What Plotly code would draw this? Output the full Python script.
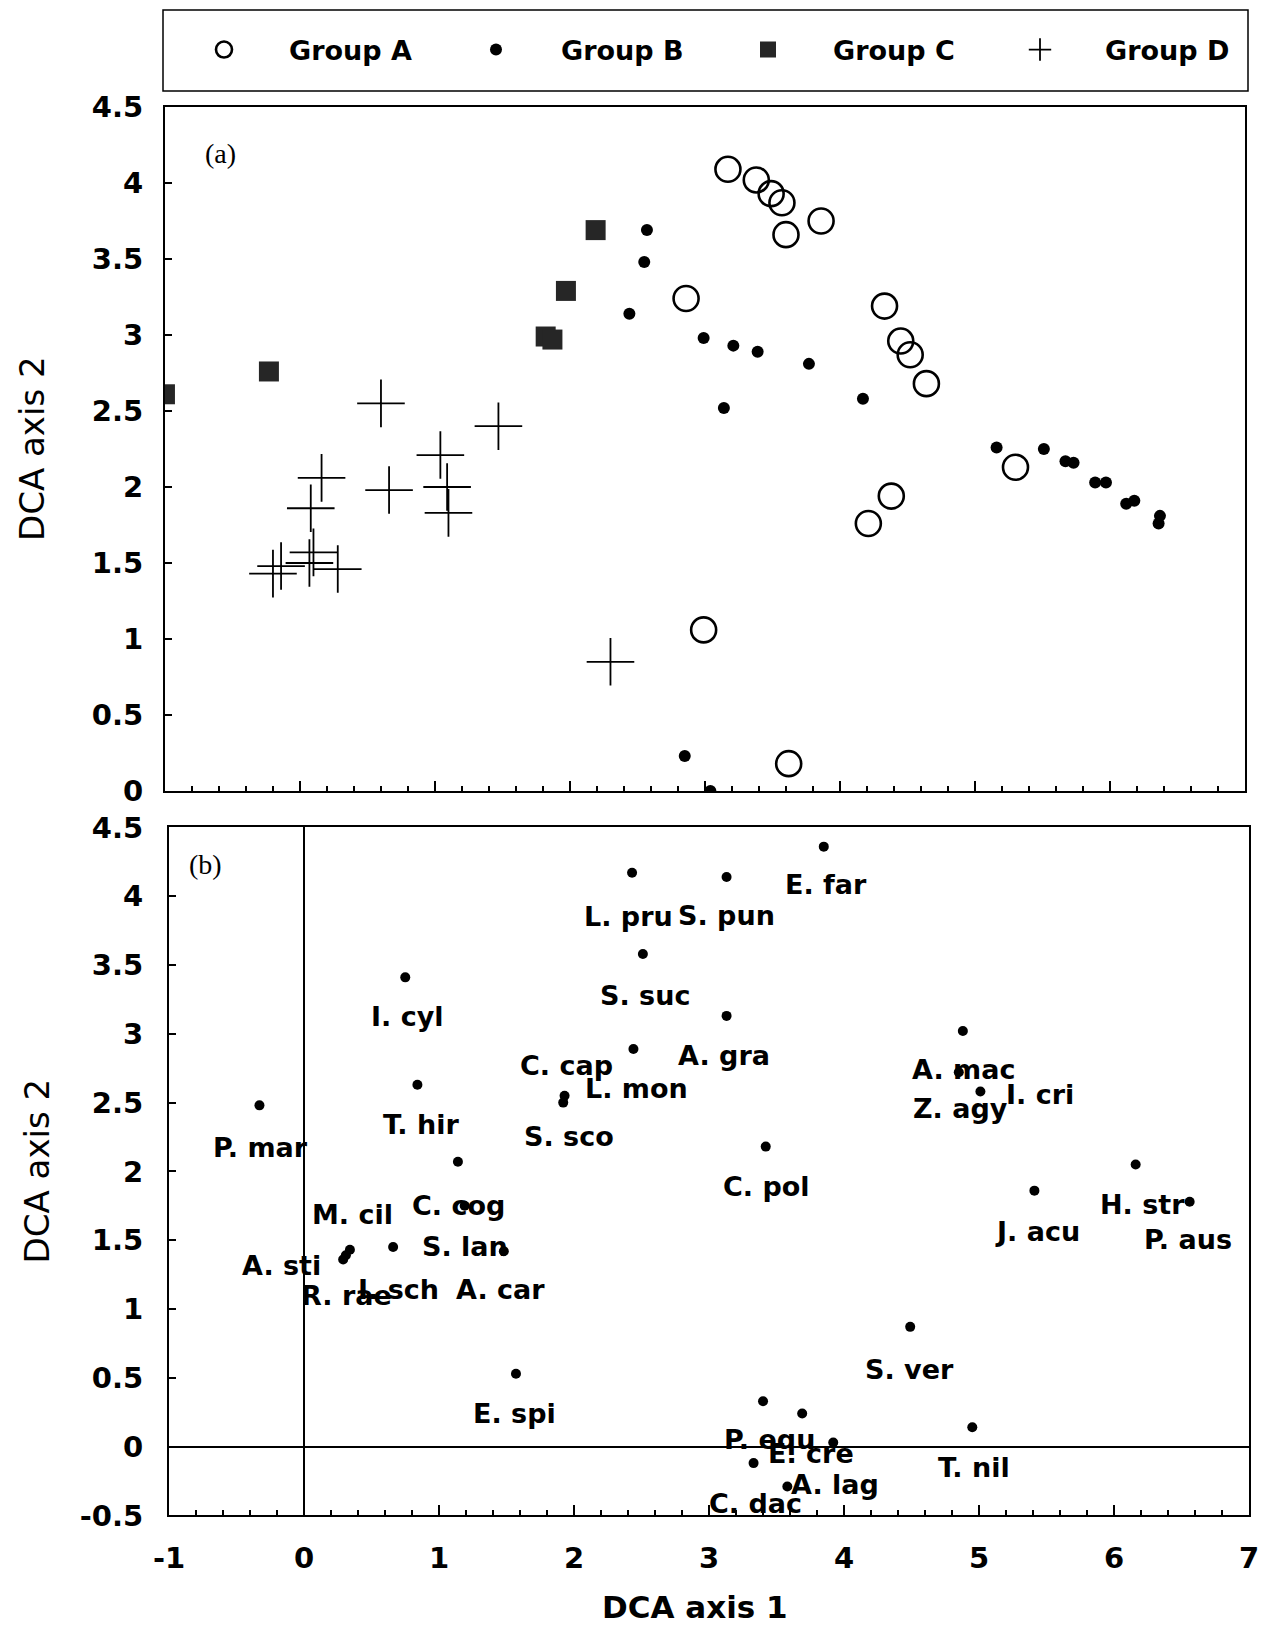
import plotly.graph_objects as go

# ---------------- Panel (a): sample scores ----------------
A_X = [3.17, 3.38, 3.49, 3.57, 3.60, 3.86, 2.86, 4.33, 4.45, 4.52, 4.64, 5.30, 4.38, 4.21, 2.99, 3.62]
A_Y = [4.09, 4.02, 3.93, 3.87, 3.66, 3.75, 3.24, 3.19, 2.96, 2.87, 2.68, 2.13, 1.94, 1.76, 1.06, 0.18]

B_X = [2.57, 2.55, 2.44, 2.99, 3.21, 3.39, 3.77, 3.14, 4.17, 5.16, 5.51, 5.67, 5.73,
       5.89, 5.97, 6.12, 6.18, 6.37, 6.36, 2.85, 3.04]
B_Y = [3.69, 3.48, 3.14, 2.98, 2.93, 2.89, 2.81, 2.52, 2.58, 2.26, 2.25, 2.17, 2.16,
       2.03, 2.03, 1.89, 1.91, 1.81, 1.76, 0.23, 0.00]

C_X = [2.19, 1.97, 1.82, 1.87, -0.23, -1.00]
C_Y = [3.69, 3.29, 2.99, 2.97, 2.76, 2.61]

D_X = [0.60, 1.47, 1.04, 0.16, 0.66, 1.09, 1.10, 0.08, 0.10, 0.07, -0.14, -0.20, 0.28, 2.30]
D_Y = [2.55, 2.40, 2.21, 2.06, 1.98, 2.00, 1.83, 1.86, 1.57, 1.50, 1.48, 1.43, 1.46, 0.85]

GROUP_NAMES = ["Group A", "Group B", "Group C", "Group D"]

# ---------------- Panel (b): species scores ----------------
SPECIES = ["E. far", "L. pru", "S. pun", "S. suc", "I. cyl", "A. gra", "C. cap", "L. mon",
           "S. sco", "T. hir", "P. mar", "C. pol", "A. mac", "Z. agy", "I. cri", "H. str",
           "P. aus", "J. acu", "C. cog", "S. lan", "M. cil", "A. sti", "R. rae", "I. sch",
           "A. car", "E. spi", "S. ver", "P. equ", "E. cre", "T. nil", "A. lag", "C. dac", ""]
SP_X = [3.85, 2.43, 3.13, 2.51, 0.75, 3.13, 2.44, 1.93, 1.92, 0.84, -0.33, 3.42, 4.88, 4.85,
        5.01, 6.16, 6.56, 5.41, 1.14, 1.19, 0.34, 0.31, 0.29, 0.66, 1.48, 1.57, 4.49, 3.40,
        3.69, 4.95, 3.92, 3.33, 3.58]
SP_Y = [4.36, 4.17, 4.14, 3.58, 3.41, 3.13, 2.89, 2.55, 2.50, 2.63, 2.48, 2.18, 3.02, 2.72,
        2.58, 2.05, 1.78, 1.86, 2.07, 1.75, 1.43, 1.39, 1.36, 1.45, 1.42, 0.53, 0.87, 0.33,
        0.24, 0.14, 0.03, -0.12, -0.29]

# tick labels
X_TICKS = [-1, 0, 1, 2, 3, 4, 5, 6, 7]
X_TICKTEXT = ["-1", "0", "1", "2", "3", "4", "5", "6", "7"]
YA_TICKS = [0, 0.5, 1, 1.5, 2, 2.5, 3, 3.5, 4, 4.5]
YA_TICKTEXT = ["0", "0.5", "1", "1.5", "2", "2.5", "3", "3.5", "4", "4.5"]
YB_TICKS = [-0.5, 0, 0.5, 1, 1.5, 2, 2.5, 3, 3.5, 4, 4.5]
YB_TICKTEXT = ["-0.5", "0", "0.5", "1", "1.5", "2", "2.5", "3", "3.5", "4", "4.5"]

# label placement offsets (pixels: dx right, dy down) -- style only
LABEL_OFFSETS = [(2, 38), (-4, 44), (0, 39), (2, 42), (2, 39), (-3, 40), (-67, 17), (72, -7),
                 (6, 34), (4, 40), (1, 42), (1, 40), (1, 38), (2, 36), (60, 3), (7, 40),
                 (-2, 38), (3, 41), (1, 44), (0, 41), (3, -35), (-64, 10), (3, 36), (5, 42),
                 (-3, 38), (-1, 40), (-1, 43), (6, 38), (9, 40), (2, 40), (2, 42), (2, 40),
                 (0, 40)]

W, H = 1265, 1627
BOLD = dict(family="DejaVu Sans", size=27, color="black", weight="bold")
TICKF = dict(family="DejaVu Sans", size=29, color="black", weight="bold")

fig = go.Figure()

fig.add_trace(go.Scatter(x=A_X, y=A_Y, mode="markers", name=GROUP_NAMES[0],
                         marker=dict(symbol="circle-open", size=25, color="black",
                                     line=dict(width=2.6, color="black")),
                         xaxis="x", yaxis="y"))
fig.add_trace(go.Scatter(x=B_X, y=B_Y, mode="markers", name=GROUP_NAMES[1],
                         marker=dict(symbol="circle", size=12, color="black"),
                         xaxis="x", yaxis="y"))
fig.add_trace(go.Scatter(x=C_X, y=C_Y, mode="markers", name=GROUP_NAMES[2],
                         marker=dict(symbol="square", size=20, color="#262626"),
                         xaxis="x", yaxis="y"))
fig.add_trace(go.Scatter(x=D_X, y=D_Y, mode="markers", name=GROUP_NAMES[3],
                         marker=dict(symbol="cross-thin", size=34, color="black",
                                     line=dict(width=1.8, color="black")),
                         xaxis="x", yaxis="y"))

fig.add_trace(go.Scatter(x=SP_X, y=SP_Y, mode="markers", showlegend=False,
                         marker=dict(symbol="circle", size=10, color="black"),
                         text=SPECIES, xaxis="x2", yaxis="y2"))

annotations = []
for name, sx, sy, (dx, dy) in zip(SPECIES, SP_X, SP_Y, LABEL_OFFSETS):
    if not name:
        continue
    annotations.append(dict(x=sx, y=sy, xref="x2", yref="y2", text=name, showarrow=False,
                            xanchor="center", yanchor="middle", xshift=dx, yshift=-dy,
                            font=BOLD))

PAPER = dict(xref="paper", yref="paper", showarrow=False, xanchor="center", yanchor="middle")
annotations += [
    dict(x=220 / W, y=1 - 153 / H, text="(a)",
         font=dict(family="Liberation Serif", size=28, color="black"), **PAPER),
    dict(x=205 / W, y=1 - 864 / H, text="(b)",
         font=dict(family="Liberation Serif", size=28, color="black"), **PAPER),
    dict(x=32 / W, y=(0.51383 + 0.93424) / 2, text="DCA axis 2", textangle=-90,
         font=dict(family="DejaVu Sans", size=34, color="black"), **PAPER),
    dict(x=37 / W, y=(0.0686 + 0.49146) / 2, text="DCA axis 2", textangle=-90,
         font=dict(family="DejaVu Sans", size=34, color="black"), **PAPER),
    dict(x=695 / W, y=1 - 1607 / H, text="DCA axis 1",
         font=dict(family="DejaVu Sans", size=31, color="black", weight="bold"), **PAPER),
]

axis_common = dict(showline=True, mirror=True, linecolor="black", linewidth=2,
                   showgrid=False, ticks="inside", tickcolor="black", tickwidth=1.5,
                   automargin=False, tickfont=TICKF)

fig.update_layout(
    width=W, height=H, template="none",
    margin=dict(l=0, r=0, t=0, b=0),
    paper_bgcolor="white", plot_bgcolor="white",
    xaxis=dict(domain=[0.1304, 0.9842], range=[-1, 7], anchor="y", showticklabels=False,
               tickvals=X_TICKS, ticklen=10, zeroline=False,
               minor=dict(ticks="inside", dtick=0.2, ticklen=5, tickcolor="black"),
               **axis_common),
    yaxis=dict(domain=[0.51383, 0.93424], range=[0, 4.5], anchor="x",
               tickvals=YA_TICKS, ticktext=YA_TICKTEXT, ticklen=7, zeroline=False,
               ticklabelstandoff=14, **axis_common),
    xaxis2=dict(domain=[0.1336, 0.9874], range=[-1, 7], anchor="y2",
                tickvals=X_TICKS, ticktext=X_TICKTEXT, ticklen=10,
                minor=dict(ticks="inside", dtick=0.2, ticklen=5, tickcolor="black"),
                zeroline=True, zerolinecolor="black", zerolinewidth=2,
                ticklabelstandoff=16, **axis_common),
    yaxis2=dict(domain=[0.0686, 0.49146], range=[-0.5, 4.5], anchor="x2",
                tickvals=YB_TICKS, ticktext=YB_TICKTEXT, ticklen=7,
                zeroline=True, zerolinecolor="black", zerolinewidth=2,
                ticklabelstandoff=18, **axis_common),
    legend=dict(orientation="h", x=159 / W, y=1 - 50 / H, xanchor="left", yanchor="middle",
                font=BOLD, itemwidth=120, entrywidth=137, entrywidthmode="pixels",
                bgcolor="rgba(0,0,0,0)", borderwidth=0, itemsizing="trace"),
    shapes=[dict(type="rect", xref="paper", yref="paper", x0=163 / W, x1=1248 / W,
                 y0=1 - 91 / H, y1=1 - 10 / H, line=dict(color="black", width=1.5))],
    annotations=annotations,
)

fig.write_html("out.html", config={"displayModeBar": False},
               post_script="document.body.style.margin='0';document.body.style.overflow='hidden';")
